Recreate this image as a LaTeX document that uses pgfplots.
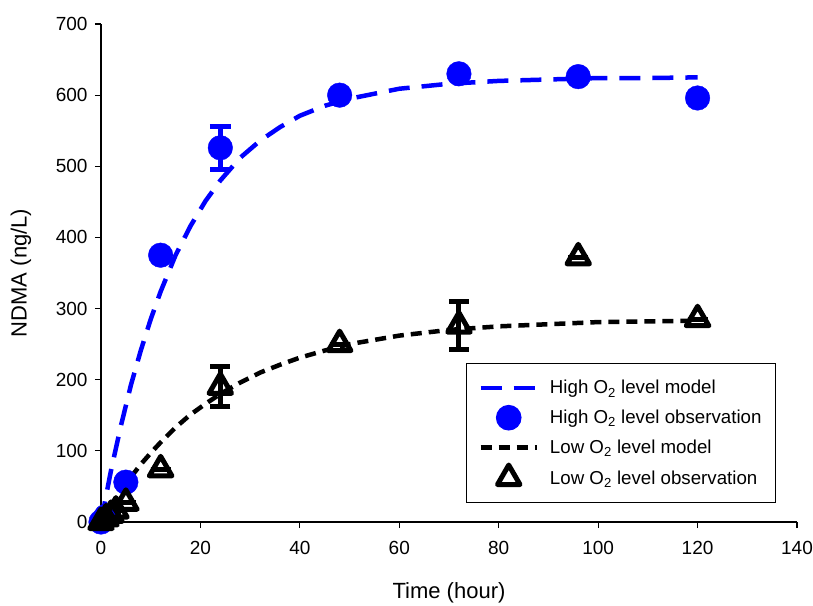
\documentclass[border=0pt]{standalone}
\usepackage{pgfplots}
\pgfplotsset{compat=1.18}
\usepackage{fontspec}
\setmainfont{Liberation Sans}
\usetikzlibrary{calc}
\definecolor{myblue}{RGB}{0,0,255}

\begin{document}
\begin{tikzpicture}
\begin{axis}[
  scale only axis, width=696pt, height=498pt,
  xmin=0, xmax=140, ymin=0, ymax=700,
  axis lines*=left,
  axis line style={line width=1.2pt, -},
  xtick={0,20,...,140}, ytick={0,100,...,700},
  tick align=outside, major tick length=6pt,
  tick style={line width=1.2pt, black},
  clip=false,
  tick label style={font=\fontsize{19}{22}\selectfont},
  /pgf/number format/assume math mode=true,
  xticklabel style={yshift=-10pt},
  yticklabel style={xshift=-4pt},
  xlabel={Time (hour)}, ylabel={NDMA (ng/L)},
  label style={font=\fontsize{22}{26}\selectfont},
  x label style={at={(axis description cs:0.5,-0.1546)}, anchor=base},
  y label style={at={(axis description cs:-0.115,0.5)}, anchor=center},
  legend style={at={(axis description cs:0.5244,0.038)}, anchor=south west,
    draw=black, line width=1pt, font=\fontsize{18.7}{22}\selectfont,
    inner xsep=12pt, inner ysep=15pt, row sep=8pt,
    /tikz/every odd column/.append style={column sep=9pt}},
  legend cell align=left,
  legend image code/.code={\draw[mark repeat=2,mark phase=2,#1] plot coordinates {(0pt,0pt) (28pt,0pt) (56pt,0pt)};},
]
% High O2 model
\addplot[myblue, line width=4.5pt, dash pattern=on 21pt off 12pt] coordinates {
(0,0) (2,72) (4,135) (6,192) (8,241) (10,285) (12,324) (15,375) (18,416) (21,451)
(24,480) (28,512) (32,536) (36,555) (40,571) (45,585) (50,595) (60,609) (70,616)
(80,620) (90,622) (100,624) (110,624) (120,625)};
\addlegendentry{High O\textsubscript{2} level model}
% High O2 observation
\addplot[only marks, mark=*, mark size=12.3pt, myblue,
  error bars/.cd, y dir=both, y explicit,
  error bar style={line width=5pt},
  error mark options={rotate=90, mark size=10.5pt, line width=5pt}]
coordinates {
(0,0) +- (0,0)
(1,8) +- (0,0)
(5,56) +- (0,0)
(12,375) +- (0,0)
(24,526) +- (0,30)
(48,600) +- (0,0)
(72,630) +- (0,0)
(96,626) +- (0,0)
(120,596) +- (0,0)};
\addlegendentry{High O\textsubscript{2} level observation}
% Low O2 model
\addplot[black, line width=4.5pt, dash pattern=on 11pt off 7pt] coordinates {
(0,0) (2,23) (4,44) (6,63) (8,81) (10,97) (12,112) (15,133) (18,151) (21,166)
(24,180) (28,196) (32,210) (36,221) (40,231) (45,241) (50,250) (60,262) (70,270)
(80,275) (90,278) (100,281) (110,282) (120,283)};
\addlegendentry{Low O\textsubscript{2} level model}
% Low O2 observation
\addplot[only marks, mark=triangle, mark size=13pt, black,
  mark options={line width=5pt, line join=round},
  error bars/.cd, y dir=both, y explicit,
  error bar style={line width=5pt},
  error mark options={rotate=90, mark size=10pt, line width=5pt}]
coordinates {
(0,0) +- (0,0)
(1,5) +- (0,0)
(2,10) +- (0,0)
(3,16) +- (0,0)
(5,27) +- (0,0)
(12,74) +- (0,0)
(24,190) +- (0,28)
(48,250) +- (0,0)
(72,276) +- (0,34)
(96,372) +- (0,0)
(120,285) +- (0,0)};
\addlegendentry{Low O\textsubscript{2} level observation}
\end{axis}
\pgfresetboundingbox
\path ($(current axis.south west)+(-101pt,-83pt)$) rectangle ($(current axis.north east)+(16pt,24pt)$);
\end{tikzpicture}
\end{document}
